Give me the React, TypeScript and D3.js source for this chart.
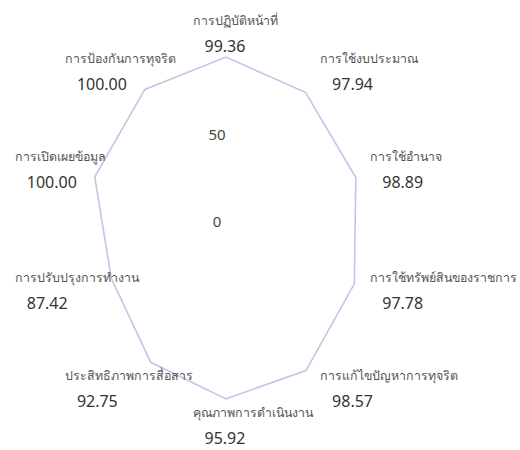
import React from 'react';
import * as d3 from 'd3';

const categories: string[] = [
  'การปฏิบัติหน้าที่',
  'การใช้งบประมาณ',
  'การใช้อำนาจ',
  'การใช้ทรัพย์สินของราชการ',
  'การแก้ไขปัญหาการทุจริต',
  'คุณภาพการดำเนินงาน',
  'ประสิทธิภาพการสื่อสาร',
  'การปรับปรุงการทำงาน',
  'การเปิดเผยข้อมูล',
  'การป้องกันการทุจริต',
];

const scores: number[] = [99.36, 97.94, 98.89, 97.78, 98.57, 95.92, 92.75, 87.42, 100.0, 100.0];

const radialTicks: number[] = [0, 50];

const W = 520;
const H = 450;
const cx = 226;
const cy = 231;
const labelFont = '"Noto Sans", "DejaVu Sans", sans-serif';

const App: React.FC = () => {
  // the picture is a bit squeezed sideways, so x and y radii differ
  const rX = d3.scaleLinear().domain([0, 100]).range([0, 138]);
  const rY = d3.scaleLinear().domain([0, 100]).range([0, 175]);
  const angle = d3
    .scaleLinear()
    .domain([0, categories.length])
    .range([0, Math.PI * 2]);

  const pt = (i: number, v: number): [number, number] => {
    const a = angle(i);
    return [cx + Math.sin(a) * rX(v), cy - Math.cos(a) * rY(v)];
  };

  const line = d3
    .line<number>()
    .x((d, i) => pt(i, d)[0])
    .y((d, i) => pt(i, d)[1])
    .curve(d3.curveLinearClosed);

  const maxV = rY.domain()[1];

  return (
    <svg
      width={W}
      height={H}
      style={{ position: 'absolute', left: 0, top: 0, background: '#fff' }}
    >
      <path d={line(scores) || ''} fill="none" stroke="#c4c4e6" strokeWidth={1.6} />

      {radialTicks.map(t => (
        <text
          key={t}
          x={cx - 9}
          y={cy - rY(t) - 8}
          textAnchor="middle"
          dominantBaseline="middle"
          fontFamily={labelFont}
          fontSize={15}
          fill="#444"
        >
          {t}
        </text>
      ))}

      {categories.map((name, i) => {
        const a = angle(i);
        const s = Math.sin(a);
        const [px, py] = pt(i, maxV);
        // left / centre / right alignment like a radar's point labels
        const align = s > 0.05 ? 0 : s < -0.05 ? 1 : 0.5;
        const x0 = px + 13 - 93 * align;
        const y0 = py - 13 - 21 * Math.cos(a);
        return (
          <g key={name}>
            <text
              x={x0}
              y={y0}
              dominantBaseline="middle"
              fontFamily={labelFont}
              fontSize={12.4}
              fill="#555"
            >
              {name}
            </text>
            <text
              x={x0 + 12}
              y={y0 + 26}
              dominantBaseline="middle"
              fontFamily={labelFont}
              fontSize={16}
              fill="#333"
            >
              {scores[i].toFixed(2)}
            </text>
          </g>
        );
      })}
    </svg>
  );
};

export default App;
